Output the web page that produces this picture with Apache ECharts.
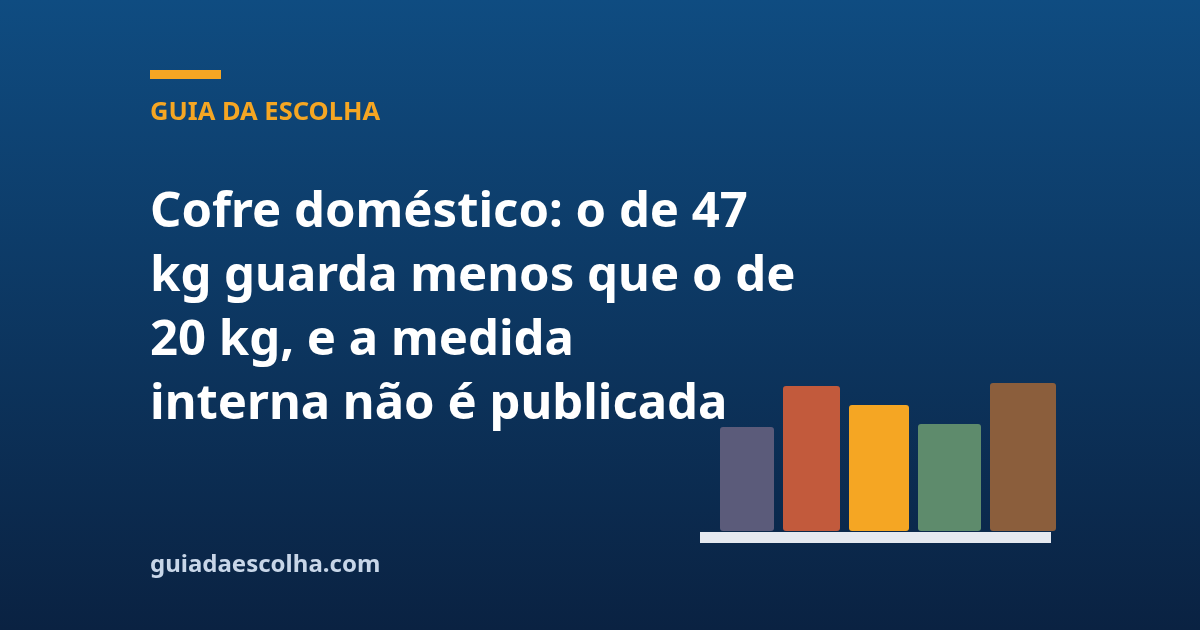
<!DOCTYPE html>
<html>
<head>
<meta charset="utf-8">
<style>
html,body{margin:0;padding:0;width:1200px;height:630px;overflow:hidden;}
#c{width:1200px;height:630px;}
</style>
<script src="https://cdn.jsdelivr.net/npm/echarts@6/dist/echarts.min.js"></script>
</head>
<body>
<div id="c"></div>
<script>
var categories = ['A', 'B', 'C', 'D', 'E'];
var barValues = [104, 145, 126, 107, 148];
var barColors = ['#5b5b7a', '#c25a3c', '#f5a623', '#5e8b6c', '#8b5e3c'];
var kicker = 'GUIA DA ESCOLHA';
var titleLines = ['Cofre doméstico: o de 47', 'kg guarda menos que o de', '20 kg, e a medida', 'interna não é publicada'];
var footer = 'guiadaescolha.com';

var chart = echarts.init(document.getElementById('c'), null, {renderer: 'canvas'});

var GRID_LEFT = 720, BASE_W = 54, STEP_W = 3, GAP = 9;
var FONT = '"Noto Sans", "Open Sans", sans-serif';

var option = {
  backgroundColor: {
    type: 'linear', x: 0, y: 0, x2: 0, y2: 1,
    colorStops: [{offset: 0, color: '#0f4c81'}, {offset: 1, color: '#0a2242'}]
  },
  animation: false,
  grid: {left: GRID_LEFT, top: 381, width: 336, height: 150},
  xAxis: {type: 'category', data: categories, show: false},
  yAxis: {type: 'value', min: 0, max: 150, show: false},
  series: [{
    type: 'custom',
    data: barValues.map(function (v, i) { return [categories[i], v]; }),
    encode: {x: 0, y: 1},
    renderItem: function (params, api) {
      var i = params.dataIndex;
      var x = GRID_LEFT;
      for (var k = 0; k < i; k++) x += BASE_W + STEP_W * k + GAP;
      var w = BASE_W + STEP_W * i;
      var top = api.coord([i, api.value(1)])[1];
      var bot = api.coord([i, 0])[1];
      return {
        type: 'rect',
        shape: {x: x, y: top, width: w, height: bot - top, r: 3},
        style: {fill: barColors[i]}
      };
    }
  }],
  graphic: [
    {type: 'rect', shape: {x: 150, y: 70, width: 71, height: 9}, style: {fill: '#f5a623'}},
    {type: 'text', x: 150, y: 100, style: {text: kicker, fill: '#f5a623', font: 'bold 25.5px ' + FONT}},
    {type: 'text', x: 150, y: 181, style: {text: titleLines.join('\n'), fill: '#ffffff', lineHeight: 64, font: 'bold 49px ' + FONT}},
    {type: 'text', x: 150, y: 553, style: {text: footer, fill: '#c8d6e8', font: 'bold 24px ' + FONT}},
    {type: 'rect', shape: {x: 700, y: 532, width: 351, height: 11}, style: {fill: '#e5e9f0'}}
  ]
};
chart.setOption(option);
</script>
</body>
</html>
